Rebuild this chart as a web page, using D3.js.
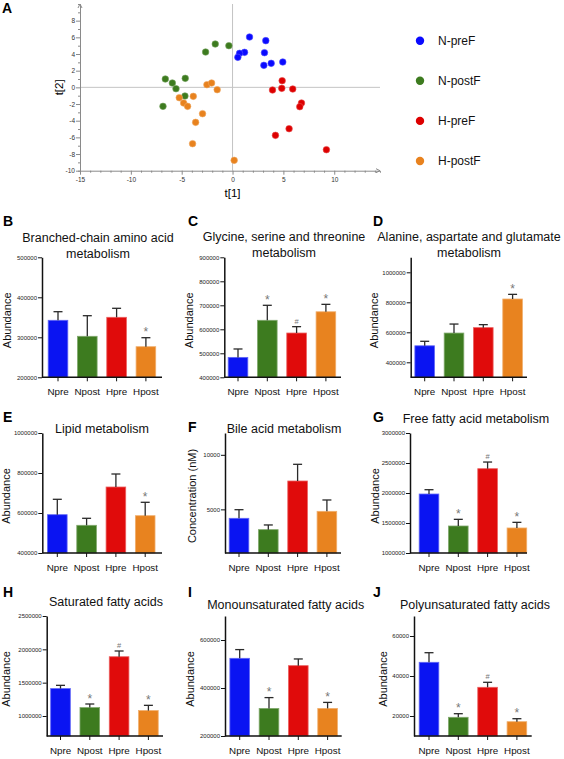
<!DOCTYPE html>
<html><head><meta charset="utf-8">
<script src="https://cdn.jsdelivr.net/npm/d3@7"></script>
<style>body{margin:0;background:#fff} svg{display:block;font-family:"Liberation Sans",Arial,sans-serif}</style>
</head><body>
<svg id="c" width="564" height="759"></svg>
<script>
// ---------- DATA ----------
const groupNames = ["N-preF","N-postF","H-preF","H-postF"];
const scoresNpreF  = [[1.67,6.04],[3.27,5.6],[3.14,4.16],[1.18,4.2],[0.69,4.08],[0.52,3.6],[3.08,2.64],[3.80,2.88],[4.94,3.04]];
const scoresNpostF = [[-1.70,5.2],[-0.36,5.0],[-2.65,4.24],[-6.61,1.0],[-5.92,0.52],[-5.56,-0.16],[-4.65,1.08],[-4.68,-1.04],[-6.84,-2.28]];
const scoresHpreF  = [[4.88,0.8],[4.84,-0.12],[3.93,-0.32],[5.92,-0.2],[6.78,-1.88],[6.61,-2.32],[5.56,-4.96],[4.22,-5.76],[9.23,-7.48]];
const scoresHpostF = [[-2.52,0.32],[-2.06,0.52],[-1.51,-0.28],[-5.24,-1.24],[-4.81,-1.88],[-4.42,-2.28],[-3.86,-1.08],[-2.95,-3.16],[-3.63,-4.2],[-3.93,-6.76],[0.16,-8.76]];
const t1Ticks = [-15,-10,-5,0,5,10];
const t2Ticks = [8,6,4,2,0,-2,-4,-6,-8,-10];

const categories = ["Npre","Npost","Hpre","Hpost"];

const bcaaMean = [342500,302500,350000,276500];
const bcaaSem  = [21500,51500,22500,22500];
const bcaaMark = ["","","","*"];
const bcaaTicks = [200000,300000,400000,500000];

const glyMean = [483000,637500,584500,673000];
const glySem  = [35000,62500,26500,31000];
const glyMark = ["","*","#","*"];
const glyTicks = [400000,500000,600000,700000,800000,900000];

const alaMean = [510000,595000,631000,822000];
const alaSem  = [30000,60000,20000,31000];
const alaMark = ["","","","*"];
const alaTicks = [400000,600000,800000,1000000];

const lipMean = [591500,538500,730000,586500];
const lipSem  = [77000,35000,65000,67000];
const lipMark = ["","","","*"];
const lipTicks = [400000,600000,800000,1000000];

const bileMean = [4180,3140,7600,4820];
const bileSem  = [790,430,1530,1040];
const bileMark = ["","","",""];
const bileTicks = [5000,10000];

const ffaMean = [1983000,1450000,2405000,1417000];
const ffaSem  = [72000,111000,111000,94000];
const ffaMark = ["","*","#","*"];
const ffaTicks = [1000000,1500000,2000000,2500000,3000000];

const sfaMean = [1411000,1126000,1889000,1081000];
const sfaSem  = [49000,54000,86000,79000];
const sfaMark = ["","*","#","*"];
const sfaTicks = [1000000,1500000,2000000,2500000];

const mufaMean = [523700,315000,493000,315000];
const mufaSem  = [36300,45000,28000,25000];
const mufaMark = ["","*","","*"];
const mufaTicks = [200000,400000,600000];

const pufaMean = [46850,19350,34350,17150];
const pufaSem  = [4800,1800,2500,1500];
const pufaMark = ["","*","#","*"];
const pufaTicks = [20000,40000,60000];

// ---------- STYLE / LAYOUT ----------
const ptColors  = ["#0a0aff","#3d7b1f","#dd0000","#e8821e"];
const barColors = ["#0a14f2","#3d7b1f","#e00b0b","#e8831f"];
const svg = d3.select("#c");

// ---------- PANEL A ----------
const x = d3.scaleLinear().domain([-15,14.5]).range([80,380]);
const y = d3.scaleLinear().domain([-10,10]).range([170.7,4]);
const gA = svg.append("g");
const axCol = "#8a8a8a";
gA.append("line").attr("x1",x(-15)).attr("x2",x(14.5)).attr("y1",y(0)).attr("y2",y(0)).attr("stroke","#c4c4c4").attr("stroke-width",1);
gA.append("line").attr("x1",x(0)).attr("x2",x(0)).attr("y1",y(10)).attr("y2",y(-10)).attr("stroke","#c4c4c4").attr("stroke-width",1);
const xAx = d3.axisBottom(x).tickValues(d3.range(-15,15,1)).tickSize(2).tickFormat(d=> t1Ticks.includes(d)? d : "");
const gx = gA.append("g").attr("transform",`translate(0,${y(-10)})`).call(xAx);
gx.selectAll(".tick line").attr("y2",d=>t1Ticks.includes(d)?4:2);
const yAx = d3.axisLeft(y).tickValues(d3.range(-10,11,1)).tickSize(2).tickFormat(d=> t2Ticks.includes(d)? d : "");
const gy = gA.append("g").attr("transform",`translate(${x(-15)},0)`).call(yAx);
gy.selectAll(".tick line").attr("x2",d=>t2Ticks.includes(d)?-4:-2);
[gx,gy].forEach(g=>{
  g.select(".domain").attr("stroke",axCol);
  g.selectAll(".tick line").attr("stroke",axCol);
  g.selectAll(".tick text").attr("font-size",6.5).attr("fill","#333").attr("font-family","Liberation Sans, Arial");
});
gx.selectAll(".tick text").attr("dy","0.9em");
gA.append("path").attr("d",`M${x(14.5)-4},${y(-10)-2} L${x(14.5)},${y(-10)} L${x(14.5)-4},${y(-10)+2}`).attr("fill","none").attr("stroke",axCol);
gA.append("path").attr("d",`M${x(-15)-2},${y(10)+4} L${x(-15)},${y(10)} L${x(-15)+2},${y(10)+4}`).attr("fill","none").attr("stroke",axCol);
gA.append("text").attr("x",x(0)).attr("y",197).attr("text-anchor","middle").attr("font-size",11.5).text("t[1]");
gA.append("text").attr("transform",`translate(63,${y(0)}) rotate(-90)`).attr("text-anchor","middle").attr("font-size",11.5).text("t[2]");
[scoresNpreF,scoresNpostF,scoresHpreF,scoresHpostF].forEach((arr,i)=>{
  gA.append("g").selectAll("circle").data(arr).join("circle")
    .attr("cx",d=>x(d[0])).attr("cy",d=>y(d[1])).attr("r",3.3)
    .attr("fill",ptColors[i]).attr("stroke",d3.interpolateRgb(ptColors[i],"#fff")(0.3)).attr("stroke-width",0.6);
});
const legY = d3.scalePoint().domain(groupNames).range([40.7,161]);
groupNames.forEach((n,i)=>{
  gA.append("circle").attr("cx",420).attr("cy",legY(n)).attr("r",4.2).attr("fill",ptColors[i]);
  gA.append("text").attr("x",438).attr("y",legY(n)).attr("dy","0.36em").attr("font-size",12).attr("fill","#111").text(n);
});

// ---------- LETTERS ----------
const letters = [["A",2,13.3],["B",3,225.7],["C",188,225.7],["D",373,225.7],["E",3,422.3],["F",188,431.7],["G",373,422.3],["H",3,596.7],["I",188,597.3],["J",373,596.7]];
letters.forEach(l=> svg.append("text").attr("x",l[1]).attr("y",l[2]).attr("font-size",14).attr("font-weight","bold").text(l[0]));

// ---------- BAR PANELS ----------
const panels = [
 {mean:bcaaMean, sem:bcaaSem, mark:bcaaMark, ticks:bcaaTicks, dom:[200000,500000], title:["Branched-chain amino acid","metabolism"], tx:98, ty:241.7, yl:"Abundance", ylx:7,
  ax:42, cx0:58, x1:162, top:257.3, bot:377.3},
 {mean:glyMean, sem:glySem, mark:glyMark, ticks:glyTicks, dom:[400000,900000], title:["Glycine, serine and threonine","metabolism"], tx:284, ty:241.3, yl:"Abundance", ylx:189,
  ax:224.3, cx0:238, x1:341, top:257.3, bot:377.3},
 {mean:alaMean, sem:alaSem, mark:alaMark, ticks:alaTicks, dom:[300000,1100000], title:["Alanine, aspartate and glutamate","metabolism"], tx:469, ty:241.3, yl:"Abundance", ylx:374,
  ax:410.7, cx0:424.7, x1:527, top:257.3, bot:377.3},
 {mean:lipMean, sem:lipSem, mark:lipMark, ticks:lipTicks, dom:[400000,1000000], title:["Lipid metabolism"], tx:102, ty:432.7, yl:"Abundance", ylx:6.5,
  ax:42.3, cx0:57.3, x1:162, top:433, bot:553},
 {mean:bileMean, sem:bileSem, mark:bileMark, ticks:bileTicks, dom:[1000,12000], title:["Bile acid metabolism"], tx:284, ty:433, yl:"Concentration (nM)", ylx:192,
  ax:225, cx0:239, x1:341, top:433, bot:553},
 {mean:ffaMean, sem:ffaSem, mark:ffaMark, ticks:ffaTicks, dom:[1000000,3000000], title:["Free fatty acid metabolism"], tx:476, ty:422.7, yl:"Abundance", ylx:375,
  ax:410, cx0:429, x1:527, top:433, bot:553},
 {mean:sfaMean, sem:sfaSem, mark:sfaMark, ticks:sfaTicks, dom:[700000,2500000], title:["Saturated fatty acids"], tx:106, ty:605.7, yl:"Abundance", ylx:6,
  ax:46.7, cx0:60.5, x1:163, top:616, bot:736},
 {mean:mufaMean, sem:mufaSem, mark:mufaMark, ticks:mufaTicks, dom:[200000,700000], title:["Monounsaturated fatty acids"], tx:285.7, ty:608.7, yl:"Abundance", ylx:190,
  ax:225, cx0:239.7, x1:341.7, top:616, bot:736},
 {mean:pufaMean, sem:pufaSem, mark:pufaMark, ticks:pufaTicks, dom:[10000,70000], title:["Polyunsaturated fatty acids"], tx:475, ty:609.3, yl:"Abundance", ylx:383.5,
  ax:414, cx0:429, x1:531.7, top:616, bot:736}
];
const step = 29.3;
panels.forEach(p=>{
  const g = svg.append("g");
  const xs = d3.scaleBand().domain(categories).range([p.cx0-step/2, p.cx0+3.5*step]).paddingInner(0.33).paddingOuter(0.165);
  const ys = d3.scaleLinear().domain(p.dom).range([p.bot,p.top]);
  g.selectAll("rect").data(categories).join("rect")
    .attr("x",d=>xs(d)).attr("width",xs.bandwidth())
    .attr("y",(d,i)=>ys(p.mean[i])).attr("height",(d,i)=>p.bot-ys(p.mean[i]))
    .attr("fill",(d,i)=>barColors[i]).attr("stroke",(d,i)=>d3.interpolateRgb(barColors[i],"#fff")(0.35)).attr("stroke-width",0.8);
  categories.forEach((c,i)=>{
    const cx = xs(c)+xs.bandwidth()/2, y0 = ys(p.mean[i]), y1 = ys(p.mean[i]+p.sem[i]);
    g.append("line").attr("x1",cx).attr("x2",cx).attr("y1",y0).attr("y2",y1).attr("stroke","#2a2a2a").attr("stroke-width",1.3);
    g.append("line").attr("x1",cx-4.5).attr("x2",cx+4.5).attr("y1",y1).attr("y2",y1).attr("stroke","#2a2a2a").attr("stroke-width",1.3);
    if(p.mark[i]){
      const isStar = p.mark[i]==="*";
      g.append("text").attr("x",cx).attr("y",y1-(isStar?1.5:3)).attr("text-anchor","middle")
        .attr("font-size",isStar?12:7.5).attr("fill","#777").text(p.mark[i]);
    }
  });
  const yA = d3.axisLeft(ys).tickValues(p.ticks).tickSize(4).tickSizeOuter(0).tickFormat(d3.format("d"));
  const gy = g.append("g").attr("transform",`translate(${p.ax},0)`).call(yA);
  gy.select(".domain").attr("stroke","#111").attr("stroke-width",1.5);
  gy.selectAll(".tick line").attr("stroke","#111").attr("stroke-width",1);
  gy.selectAll(".tick text").attr("font-size",6).attr("fill","#222").attr("x",-5);
  g.append("line").attr("x1",p.ax).attr("x2",p.x1).attr("y1",p.bot).attr("y2",p.bot).attr("stroke","#111").attr("stroke-width",1.5);
  categories.forEach(c=>{
    const cx = xs(c)+xs.bandwidth()/2;
    g.append("line").attr("x1",cx).attr("x2",cx).attr("y1",p.bot).attr("y2",p.bot+4).attr("stroke","#111").attr("stroke-width",1);
    g.append("text").attr("x",cx).attr("y",p.bot+17.5).attr("text-anchor","middle").attr("font-size",9.8).attr("fill","#111").text(c);
  });
  p.title.forEach((t,k)=>{
    g.append("text").attr("x",p.tx).attr("y",p.ty+k*16).attr("text-anchor","middle").attr("font-size",12.5).attr("fill","#111").text(t);
  });
  g.append("text").attr("transform",`translate(${p.ylx+3.8},${(p.top+p.bot)/2+3}) rotate(-90)`).attr("text-anchor","middle")
    .attr("font-size",11).attr("fill","#111").text(p.yl);
});
</script>
</body></html>
